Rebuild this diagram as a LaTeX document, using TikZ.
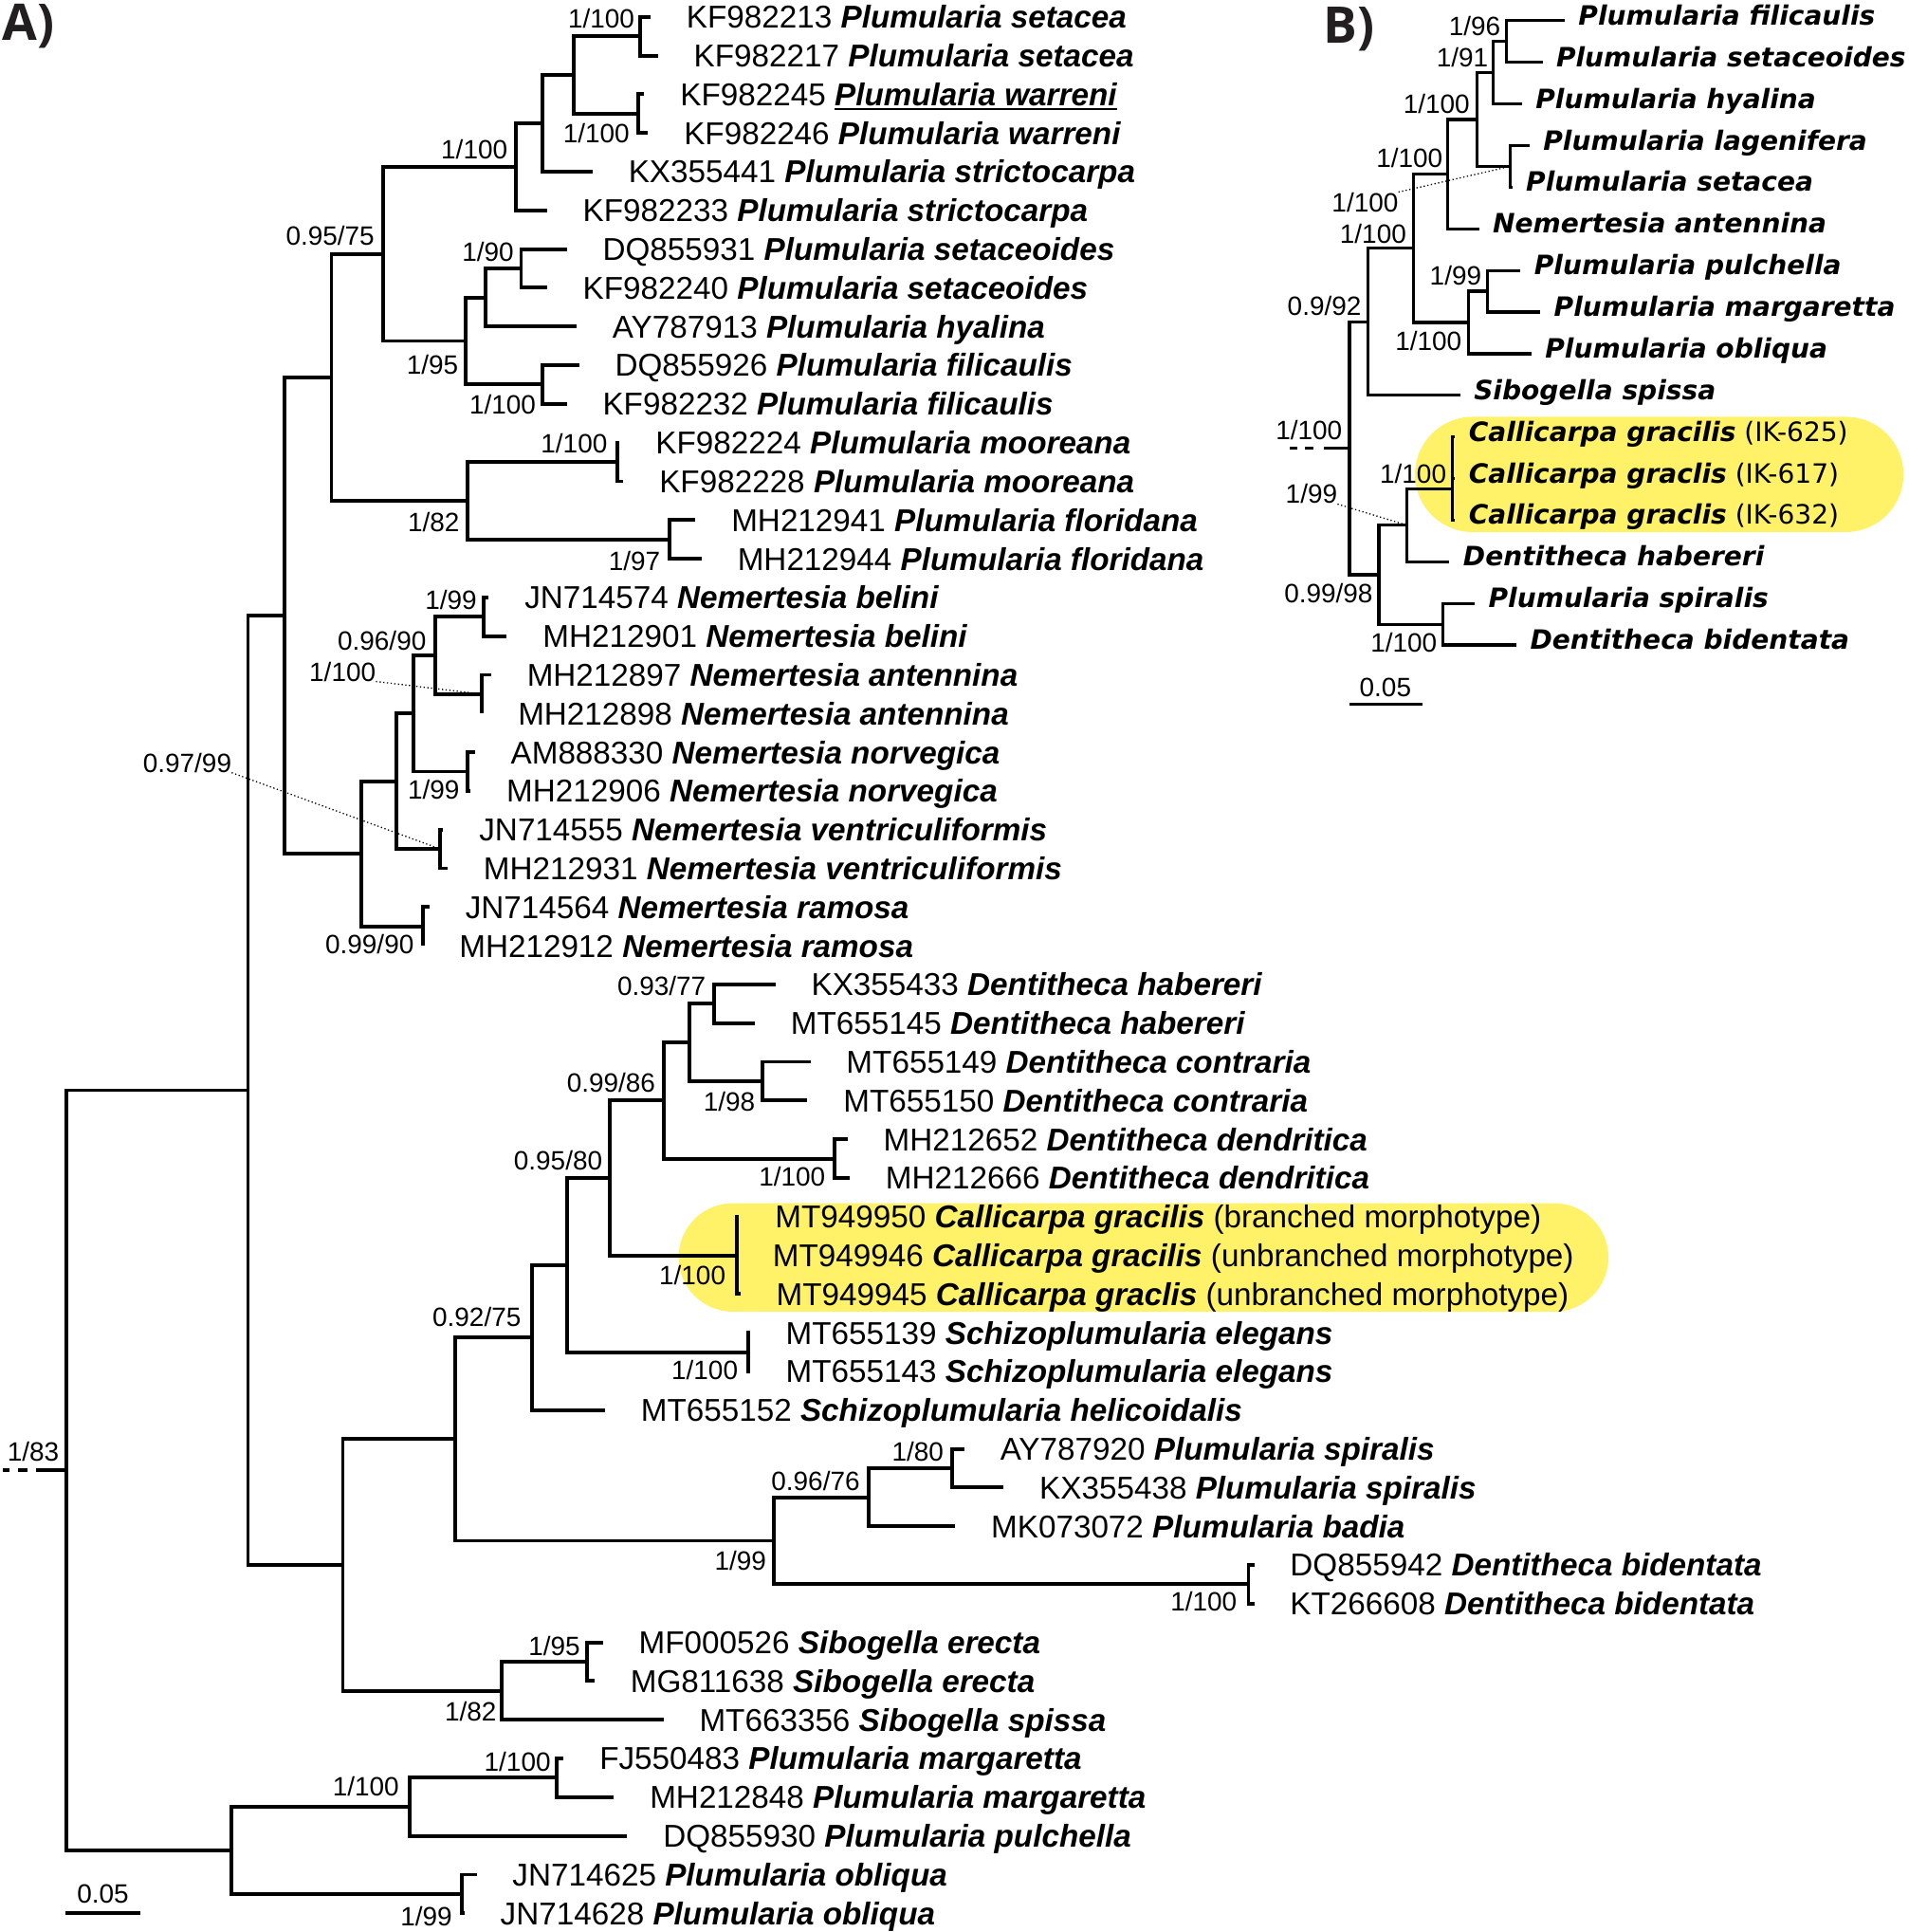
\documentclass[tikz,border=0pt]{standalone}
\usepackage{fontspec}
\setmainfont{Liberation Sans}
\newfontfamily\dejavu{DejaVu Sans}
\newfontfamily\panelfont{Open Sans}
\usetikzlibrary{calc}
\definecolor{hlyellow}{RGB}{255,241,104}
\definecolor{panelgray}{RGB}{35,31,32}
\newcommand\spc[1]{\textbf{\textit{#1}}}
\newcommand\undl[1]{\setbox0=\hbox{#1}\rlap{\rule[-3.5pt]{\wd0}{1.5pt}}\box0}
% clade: [style]{name}{x}{first child}{last child}
\newcommand\clade[5][branch]{%
  \path let \p1=(#4), \p2=(#5) in (#3pt,{(\y1+\y2)/2}) coordinate (#2);
  \draw[#1] (#2) |- (#4);
  \draw[#1] (#2) |- (#5);}

\begin{document}
\begin{tikzpicture}[x=1pt,y=-1pt,
  branch/.style={line width=3pt},
  bbranch/.style={line width=2.5pt},
  dotline/.style={line width=1pt,dotted},
  taxon/.style={anchor=base west,inner sep=0pt,xshift=29pt,yshift=-9.2pt,font=\fontsize{25.6}{30}\selectfont},
  btaxon/.style={anchor=base west,inner sep=0pt,xshift=11pt,yshift=-3.5pt,font=\dejavu\fontsize{21.6}{26}\selectfont},
  supp/.style={inner sep=0pt,font=\fontsize{21.5}{25}\selectfont},
  panel/.style={anchor=base west,inner sep=0pt,text=panelgray,font=\panelfont\bfseries\fontsize{41}{48}\selectfont},
  hl/.style={fill=hlyellow}]
\useasboundingbox (0,0) rectangle (1549,1568);

% highlights
\fill[hl,rounded corners=44pt] (550.8,976.5) rectangle (1305.5,1064.5);
\fill[hl,rounded corners=46.7pt] (1148.5,338.3) rectangle (1545,431.8);

\node[panel] (pA) at (2,33) {A)};
\node[panel] (pB) at (1074,35) {B)};

% ---------- A) tips
\foreach \i/\x/\txt in {
  1/528/KF982213 \spc{Plumularia setacea},
  2/534/KF982217 \spc{Plumularia setacea},
  3/523/KF982245 \undl{\spc{Plumularia warreni}},
  4/526/KF982246 \spc{Plumularia warreni},
  5/481/KX355441 \spc{Plumularia strictocarpa},
  6/444/KF982233 \spc{Plumularia strictocarpa},
  7/460/DQ855931 \spc{Plumularia setaceoides},
  8/444/KF982240 \spc{Plumularia setaceoides},
  9/468/AY787913 \spc{Plumularia hyalina},
  10/470/DQ855926 \spc{Plumularia filicaulis},
  11/460/KF982232 \spc{Plumularia filicaulis},
  12/503/KF982224 \spc{Plumularia mooreana},
  13/506/KF982228 \spc{Plumularia mooreana},
  14/564.5/MH212941 \spc{Plumularia floridana},
  15/569.5/MH212944 \spc{Plumularia floridana},
  16/396.7/JN714574 \spc{Nemertesia belini},
  17/411.4/MH212901 \spc{Nemertesia belini},
  18/398.6/MH212897 \spc{Nemertesia antennina},
  19/391.3/MH212898 \spc{Nemertesia antennina},
  20/385.4/AM888330 \spc{Nemertesia norvegica},
  21/382/MH212906 \spc{Nemertesia norvegica},
  22/359.8/JN714555 \spc{Nemertesia ventriculiformis},
  23/363.3/MH212931 \spc{Nemertesia ventriculiformis},
  24/348.6/JN714564 \spc{Nemertesia ramosa},
  25/343.6/MH212912 \spc{Nemertesia ramosa},
  26/629.4/KX355433 \spc{Dentitheca habereri},
  27/612.7/MT655145 \spc{Dentitheca habereri},
  28/657.8/MT655149 \spc{Dentitheca contraria},
  29/655.4/MT655150 \spc{Dentitheca contraria},
  30/688/MH212652 \spc{Dentitheca dendritica},
  31/689.7/MH212666 \spc{Dentitheca dendritica},
  32/600/MT949950 \spc{Callicarpa gracilis} (branched morphotype),
  33/598/MT949946 \spc{Callicarpa gracilis} (unbranched morphotype),
  34/601/MT949945 \spc{Callicarpa graclis} (unbranched morphotype),
  35/608.7/MT655139 \spc{Schizoplumularia elegans},
  36/608.7/MT655143 \spc{Schizoplumularia elegans},
  37/491/MT655152 \spc{Schizoplumularia helicoidalis},
  38/782.7/AY787920 \spc{Plumularia spiralis},
  39/814.6/KX355438 \spc{Plumularia spiralis},
  40/775.3/MK073072 \spc{Plumularia badia},
  41/1018/DQ855942 \spc{Dentitheca bidentata},
  42/1018/KT266608 \spc{Dentitheca bidentata},
  43/489.4/MF000526 \spc{Sibogella erecta},
  44/482.6/MG811638 \spc{Sibogella erecta},
  45/538.5/MT663356 \spc{Sibogella spissa},
  46/457.5/FJ550483 \spc{Plumularia margaretta},
  47/498.3/MH212848 \spc{Plumularia margaretta},
  48/509.1/DQ855930 \spc{Plumularia pulchella},
  49/386.8/JN714625 \spc{Plumularia obliqua},
  50/377/JN714628 \spc{Plumularia obliqua}}
{\coordinate (t\i) at (\x,{13.7+31.41*(\i-1)});
 \node[taxon] (la\i) at (t\i) {\txt};}

% ---------- A) clades
\clade{n1_2}{519.4}{t1}{t2}
\clade{n3_4}{518}{t3}{t4}
\clade{n1_4}{466}{n1_2}{n3_4}
\clade{n1_5}{440}{n1_4}{t5}
\clade{n1_6}{419}{n1_5}{t6}
\clade{n7_8}{423}{t7}{t8}
\clade{n7_9}{394}{n7_8}{t9}
\clade{n10_11}{440}{t10}{t11}
\clade{n7_11}{378}{n7_9}{n10_11}
\clade{n1_11}{311}{n1_6}{n7_11}
\clade{n12_13}{501}{t12}{t13}
\clade{n14_15}{543.4}{t14}{t15}
\clade{n12_15}{379.5}{n12_13}{n14_15}
\clade{n1_15}{269}{n1_11}{n12_15}
\clade{n16_17}{392.7}{t16}{t17}
\clade{n18_19}{391.3}{t18}{t19}
\clade{n16_19}{353.5}{n16_17}{n18_19}
\clade{n20_21}{379.5}{t20}{t21}
\clade{n16_21}{335.3}{n16_19}{n20_21}
\clade{n22_23}{357.4}{t22}{t23}
\clade{n16_23}{321.5}{n16_21}{n22_23}
\clade{n24_25}{343.6}{t24}{t25}
\clade{n16_25}{293}{n16_23}{n24_25}
\clade{n1_25}{231}{n1_15}{n16_25}
\clade{n26_27}{579.3}{t26}{t27}
\clade{n28_29}{618.6}{t28}{t29}
\clade{n26_29}{559.6}{n26_27}{n28_29}
\clade{n30_31}{677.5}{t30}{t31}
\clade{n26_31}{539}{n26_29}{n30_31}
\clade{n32_34}{598}{t32}{t34}
\draw[branch] (n32_34) |- (t33);
\clade{n26_34}{494.8}{n26_31}{n32_34}
\clade{n35_36}{607.3}{t35}{t36}
\clade{n26_36}{460}{n26_34}{n35_36}
\clade{n26_37}{432}{n26_36}{t37}
\clade{n38_39}{772.9}{t38}{t39}
\clade{n38_40}{705}{n38_39}{t40}
\clade{n41_42}{1013.4}{t41}{t42}
\clade{n38_42}{628.4}{n38_40}{n41_42}
\clade{n26_42}{369.7}{n26_37}{n38_42}
\clade{n43_44}{476.2}{t43}{t44}
\clade{n43_45}{407.5}{n43_44}{t45}
\clade{n26_45}{278.3}{n26_42}{n43_45}
\clade{n1_45}{201.3}{n1_25}{n26_45}
\clade{n46_47}{451.6}{t46}{t47}
\clade{n46_48}{332.4}{n46_47}{t48}
\clade{n49_50}{374.6}{t49}{t50}
\clade{n46_50}{188}{n46_48}{n49_50}
\clade{rootA}{54}{n1_45}{n46_50}
\draw[branch] (rootA) -- ++(-24.5,0) coordinate (stubA);
\coordinate (dashA) at ([xshift=-7.5pt]stubA);
\draw[branch,dash pattern=on 7pt off 7.5pt] (dashA) -- ++(-19.5,0);

% ---------- A) support values
\foreach \x/\y/\p/\b [count=\k] in {488/15/1/100, 484/108/1/100, 385/121/1/100,
  268/191/0.95/75, 396/204/1/90, 351/296/1/95, 408/328/1/100, 466/360/1/100,
  352/424/1/82, 515/455/1/97, 366/487/1/99, 310/520/0.96/90, 352/641/1/99,
  300/766/0.99/90, 537/800/0.93/77, 592/894/1/98, 496/879/0.99/86, 643/955/1/100,
  453/942/0.95/80, 562/1035/1/100, 387/1069/0.92/75, 572/1112/1/100,
  745/1178/1/80, 662/1202/0.96/76, 601/1267/1/99, 977/1300/1/100, 27/1178/1/83,
  450/1336/1/95, 382/1389/1/82, 420/1430/1/100, 297/1450/1/100, 346/1555/1/99}
  \node[supp] (sa\k) at (\x,\y) {\p/\b};
\node[supp] (pp18) at (278,545) {1/100};
\node[supp] (pp22) at (152,619) {0.97/99};
\draw[dotline] (pp18.south east) -- (n18_19);
\draw[dotline] (pp22.south east) -- (n22_23);

% scale A
\coordinate (sa0) at (53,1552.4);
\coordinate (sa1) at (113.9,1552.4);
\draw[branch] (sa0) -- (sa1);
\node[supp] (scA) at (83.5,1537) {0.05};

% ---------- B) tips
\foreach \i/\x/\txt in {
  1/1270/\spc{Plumularia filicaulis},
  2/1252/\spc{Plumularia setaceoides},
  3/1235.3/\spc{Plumularia hyalina},
  4/1241.5/\spc{Plumularia lagenifera},
  5/1227.5/\spc{Plumularia setacea},
  6/1200.5/\spc{Nemertesia antennina},
  7/1234.2/\spc{Plumularia pulchella},
  8/1250.2/\spc{Plumularia margaretta},
  9/1243/\spc{Plumularia obliqua},
  10/1185.2/\spc{Sibogella spissa},
  11/1181/\spc{Callicarpa gracilis} (IK-625),
  12/1181/\spc{Callicarpa graclis} (IK-617),
  13/1181/\spc{Callicarpa graclis} (IK-632),
  14/1176.5/\spc{Dentitheca habereri},
  15/1197/\spc{Plumularia spiralis},
  16/1230.8/\spc{Dentitheca bidentata}}
{\coordinate (b\i) at (\x,{16.8+33.78*(\i-1)});
 \node[btaxon] (lb\i) at (b\i) {\txt};}

% ---------- B) clades
\clade[bbranch]{b1_2}{1222.9}{b1}{b2}
\clade[bbranch]{b1_3}{1212}{b1_2}{b3}
\clade[bbranch]{b4_5}{1225.8}{b4}{b5}
\clade[bbranch]{b1_5}{1198.7}{b1_3}{b4_5}
\clade[bbranch]{b1_6}{1175}{b1_5}{b6}
\clade[bbranch]{b7_8}{1207.4}{b7}{b8}
\clade[bbranch]{b7_9}{1191.8}{b7_8}{b9}
\clade[bbranch]{b1_9}{1147.3}{b1_6}{b7_9}
\clade[bbranch]{b1_10}{1110.6}{b1_9}{b10}
\coordinate (b11_13) at (1179,396.6);
\foreach \c in {b11,b12,b13} \draw[bbranch] (b11_13) |- (\c);
\clade[bbranch]{b11_14}{1142}{b11_13}{b14}
\clade[bbranch]{b15_16}{1171}{b15}{b16}
\clade[bbranch]{b11_16}{1119.3}{b11_14}{b15_16}
\clade[bbranch]{rootB}{1095.3}{b1_10}{b11_16}
\draw[bbranch] (rootB) -- ++(-20.6,0) coordinate (stubB);
\coordinate (dashB) at ([xshift=-8.5pt]stubB);
\draw[bbranch,dash pattern=on 7pt off 6pt] (dashB) -- ++(-19.7,0);

% ---------- B) support values
\foreach \x/\y/\p/\b [count=\k] in {1197/21/1/96, 1187/46.6/1/91, 1166/84/1/100,
  1144/128/1/100, 1114.5/189.5/1/100, 1181.5/224/1/99, 1075/248/0.9/92,
  1159.5/276.5/1/100, 1062.5/349/1/100, 1147/384.5/1/100, 1078.3/481.2/0.99/98,
  1139.4/521.5/1/100}
  \node[supp] (sb\k) at (\x,\y) {\p/\b};
\node[supp] (pb5) at (1108,164) {1/100};
\node[supp] (pb12) at (1064.5,401) {1/99};
\draw[dotline] (pb5.north east) -- (b4_5);
\draw[dotline] (pb12.south east) -- (b11_14);

% scale B
\coordinate (sb0) at (1095.2,571.5);
\coordinate (sb1) at (1154.8,571.5);
\draw[bbranch] (sb0) -- (sb1);
\node[supp] (scB) at (1124.5,558.2) {0.05};
\end{tikzpicture}
\end{document}
